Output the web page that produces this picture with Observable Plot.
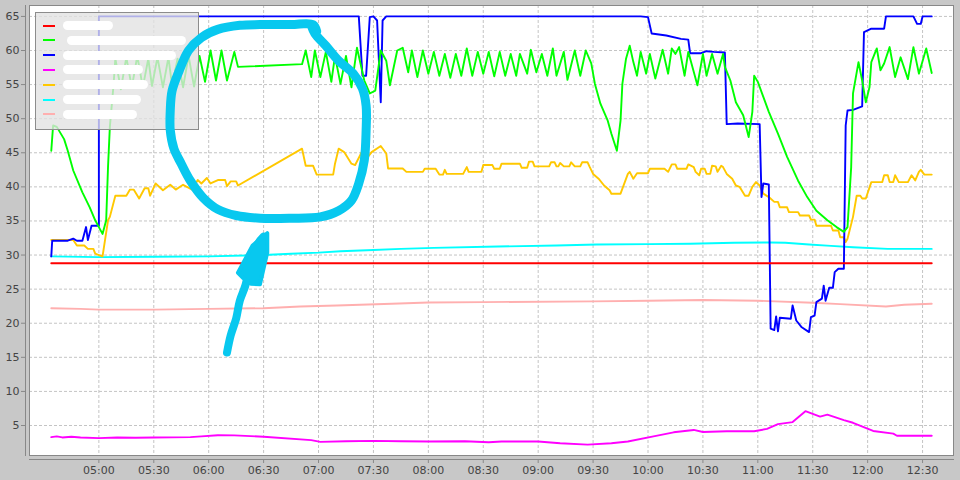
<!DOCTYPE html>
<html><head><meta charset="utf-8">
<script src="https://cdn.jsdelivr.net/npm/d3@7"></script>
<script src="https://cdn.jsdelivr.net/npm/@observablehq/plot@0.6"></script>
<style>
html,body{margin:0;padding:0;background:#c8c8c8;}
#wrap{position:relative;width:960px;height:480px;overflow:hidden;}
#wrap svg{position:absolute;left:0;top:0;}
#legend{position:absolute;left:35px;top:12px;width:164px;height:118px;background:rgba(226,226,226,0.78);border:1px solid #8c8c8c;box-sizing:border-box;}
.sw{position:absolute;left:7px;width:12px;height:2px;}
.blob{position:absolute;background:#fff;border-radius:5px;filter:blur(0.5px);}
#annot{pointer-events:none;}
</style></head><body><div id="wrap"></div>
<script>
// ---- data (time "HH:MM", value) ----
const redSeries = [["04:34",28.8],["08:00",28.8],["12:35",28.8]];
const greenSeries = [["04:34",45.3],["04:35",49.0],["04:37",48.8],["04:41",47.0],["04:43",45.3],["04:46",42.4],["04:51",39.2],["04:55",37.0],["04:58",35.1],["05:00",34.1],["05:02",33.1],["05:04",35.1],["05:05",42.9],["05:06",48.8],["05:08",54.9],["05:09",58.8],["05:12",54.3],["05:15",59.0],["05:18",54.6],["05:21",59.2],["05:24",54.6],["05:27",58.8],["05:29",54.8],["05:32",59.0],["05:35",54.6],["05:38",59.0],["05:40",54.8],["05:43",58.8],["05:46",54.6],["05:49",59.2],["05:52",54.7],["05:55",59.2],["05:58",55.4],["06:01",60.0],["06:04",55.6],["06:07",60.0],["06:10",55.6],["06:14",59.8],["06:16",57.6],["06:51",58.0],["06:53",60.0],["06:56",56.1],["06:58",60.0],["07:01",56.1],["07:04",59.8],["07:07",55.4],["07:09",59.2],["07:12",55.1],["07:15",59.2],["07:18",54.6],["07:21",60.4],["07:25",55.6],["07:28",53.7],["07:31",54.1],["07:34",60.0],["07:37",58.5],["07:39",54.9],["07:43",60.0],["07:46",60.4],["07:49",56.8],["07:51",60.0],["07:54",56.1],["07:57",60.0],["08:00",56.6],["08:03",59.8],["08:06",56.3],["08:09",59.5],["08:12",56.0],["08:15",59.5],["08:18",56.3],["08:21",60.3],["08:24",56.3],["08:27",59.8],["08:30",56.6],["08:33",59.8],["08:36",56.2],["08:39",59.8],["08:42",56.3],["08:45",59.5],["08:48",56.3],["08:50",59.5],["08:54",56.6],["08:56",60.1],["08:59",56.8],["09:02",59.5],["09:05",56.3],["09:08",60.3],["09:10",56.3],["09:14",59.8],["09:16",55.7],["09:20",60.0],["09:23",56.3],["09:26",60.0],["09:29",58.1],["09:31",55.1],["09:34",52.2],["09:38",49.7],["09:40",47.8],["09:43",45.3],["09:45",49.7],["09:46",55.1],["09:48",58.8],["09:50",60.7],["09:52",58.3],["09:54",56.3],["09:56",59.8],["09:59",56.6],["10:01",59.5],["10:04",55.9],["10:08",60.1],["10:11",56.6],["10:13",60.3],["10:15",59.5],["10:17",60.5],["10:20",56.3],["10:22",59.8],["10:27",54.9],["10:30",59.5],["10:32",56.3],["10:35",59.5],["10:38",56.6],["10:41",59.5],["10:42",57.6],["10:45",55.6],["10:48",52.4],["10:52",50.5],["10:55",47.3],["10:57",51.0],["10:58",56.3],["11:00",55.4],["11:03",53.2],["11:06",51.0],["11:11",47.8],["11:16",44.4],["11:22",40.9],["11:27",38.5],["11:32",36.5],["11:38",35.1],["11:43",34.1],["11:47",33.4],["11:49",34.1],["11:51",42.9],["11:52",53.7],["11:55",58.3],["11:57",55.6],["11:59",52.4],["12:01",54.6],["12:02",58.3],["12:05",60.3],["12:07",57.1],["12:09",58.1],["12:12",60.5],["12:15",56.1],["12:18",59.0],["12:22",55.8],["12:25",60.5],["12:28",56.6],["12:32",60.3],["12:35",56.7]];
const blueSeries = [["04:34",29.8],["04:34:30",32.1],["04:43",32.1],["04:46",32.4],["04:48",32.1],["04:51",32.1],["04:53",34.1],["04:54",32.2],["04:56",34.3],["05:00",34.3],["05:00",65.0],["07:22",65.0],["07:24",56.3],["07:26",56.3],["07:28",64.9],["07:30",65.0],["07:32",64.4],["07:34",52.4],["07:35",64.4],["07:37",65.0],["09:56",65.0],["10:00",64.9],["10:02",62.5],["10:10",62.2],["10:18",61.7],["10:22",61.6],["10:23",59.6],["10:29",59.6],["10:32",59.9],["10:36",59.8],["10:42",59.7],["10:43",49.2],["10:49",49.3],["11:01",49.2],["11:02",38.5],["11:03",40.5],["11:06",40.35],["11:07",19.2],["11:09",19.0],["11:10",21.0],["11:11",18.8],["11:12",20.8],["11:18",20.65],["11:19",22.6],["11:21",20.4],["11:24",19.4],["11:28",18.7],["11:29",20.9],["11:31",21.1],["11:32",23.1],["11:35",23.6],["11:36",25.5],["11:37",23.3],["11:39",25.2],["11:41",25.2],["11:42",27.5],["11:44",28.0],["11:47",28.0],["11:48",49.0],["11:49",51.2],["11:52",51.3],["11:57",51.8],["11:58",62.7],["12:02",63.2],["12:09",63.2],["12:10",65.0],["12:25",65.0],["12:27",63.9],["12:29",63.9],["12:30",65.0],["12:35",65.0]];
const magentaSeries = [["04:34",3.3],["04:37",3.4],["04:40",3.25],["04:45",3.35],["04:50",3.25],["05:00",3.15],["05:10",3.25],["05:20",3.2],["05:30",3.25],["05:50",3.3],["05:56",3.4],["06:05",3.58],["06:14",3.55],["06:30",3.35],["06:56",2.85],["07:01",2.6],["07:15",2.7],["07:30",2.75],["07:45",2.7],["08:00",2.65],["08:20",2.7],["08:33",2.55],["08:40",2.65],["09:00",2.65],["09:12",2.4],["09:27",2.2],["09:40",2.4],["09:49",2.65],["10:03",3.4],["10:14",4.0],["10:25",4.35],["10:30",4.05],["10:43",4.15],["10:58",4.15],["11:05",4.5],["11:11",5.2],["11:19",5.5],["11:26",7.1],["11:34",6.3],["11:38",6.6],["11:47",5.8],["11:52",5.4],["12:03",4.2],["12:14",3.8],["12:16",3.5],["12:35",3.5]];
const orangeSeries = [["04:34",32.2],["04:46",32.2],["04:48",31.4],["04:52",31.4],["04:54",30.9],["04:57",30.9],["04:58",30.2],["05:00",30.0],["05:02",29.8],["05:05",35.1],["05:06",35.6],["05:09",38.7],["05:15",38.7],["05:17",39.6],["05:19",39.6],["05:22",38.3],["05:25",39.8],["05:27",39.8],["05:28",38.7],["05:31",40.5],["05:35",39.5],["05:39",40.3],["05:42",39.6],["05:46",40.3],["05:51",39.6],["05:54",41.0],["05:56",40.5],["05:59",41.3],["06:01",40.5],["06:05",41.0],["06:09",41.0],["06:10",40.1],["06:12",40.8],["06:15",40.8],["06:16",40.2],["06:51",45.6],["06:53",43.1],["06:57",43.1],["06:59",41.8],["07:08",41.8],["07:09",43.4],["07:11",45.6],["07:14",45.1],["07:18",43.4],["07:20",43.2],["07:24",45.3],["07:27",44.4],["07:29",45.1],["07:34",46.0],["07:37",44.9],["07:38",42.7],["07:46",42.7],["07:48",42.2],["07:57",42.2],["07:58",42.65],["08:04",42.65],["08:06",41.8],["08:08",41.8],["08:09",42.5],["08:10",41.9],["08:19",41.9],["08:21",42.9],["08:22",42.2],["08:29",42.2],["08:30",43.2],["08:35",43.2],["08:36",42.65],["08:39",42.65],["08:40",43.4],["08:50",43.4],["08:51",42.8],["08:54",42.8],["08:55",43.7],["08:57",43.7],["08:58",43.0],["09:06",43.0],["09:07",43.6],["09:09",43.6],["09:10",43.0],["09:11",43.0],["09:12",43.5],["09:14",43.0],["09:17",43.0],["09:18",43.6],["09:20",43.0],["09:23",43.0],["09:24",43.6],["09:27",43.6],["09:28",43.0],["09:30",41.9],["09:33",41.2],["09:36",40.2],["09:39",39.5],["09:40",39.0],["09:45",39.0],["09:49",41.9],["09:50",42.2],["09:52",41.2],["09:54",42.0],["10:00",42.0],["10:01",42.65],["10:09",42.65],["10:11",42.2],["10:13",43.3],["10:15",43.3],["10:16",42.65],["10:21",42.65],["10:22",43.3],["10:25",42.9],["10:26",42.2],["10:28",41.7],["10:29",42.65],["10:31",42.65],["10:32",41.9],["10:34",41.9],["10:35",43.1],["10:37",43.0],["10:38",42.2],["10:40",43.1],["10:41",42.9],["10:43",41.9],["10:46",41.2],["10:48",40.2],["10:50",40.0],["10:53",38.7],["10:55",38.7],["10:57",40.0],["10:59",40.7],["11:01",40.2],["11:03",39.0],["11:06",38.5],["11:09",37.8],["11:11",37.8],["11:12",37.0],["11:16",37.0],["11:17",36.3],["11:22",36.3],["11:23",35.8],["11:28",35.8],["11:29",35.2],["11:31",35.2],["11:32",34.3],["11:40",34.3],["11:41",33.6],["11:44",33.6],["11:45",32.6],["11:47",32.6],["11:48",31.9],["11:49",32.4],["11:52",35.6],["11:54",38.7],["11:56",38.7],["11:57",38.3],["11:59",38.3],["12:02",40.7],["12:08",40.7],["12:09",41.7],["12:11",41.7],["12:12",40.7],["12:14",40.7],["12:15",41.7],["12:17",40.7],["12:22",40.7],["12:24",41.7],["12:26",40.95],["12:28",42.2],["12:29",42.5],["12:31",41.8],["12:35",41.8]];
const cyanSeries = [["04:34",29.8],["05:00",29.7],["05:30",29.75],["06:00",29.8],["06:30",30.0],["06:45",30.2],["07:00",30.35],["07:12",30.55],["07:30",30.75],["07:45",30.9],["08:03",31.05],["08:38",31.25],["09:10",31.4],["09:32",31.55],["10:00",31.6],["10:23",31.65],["10:47",31.8],["11:07",31.85],["11:15",31.8],["11:28",31.55],["11:40",31.35],["11:52",31.15],["12:11",30.9],["12:35",30.9]];
const pinkSeries = [["04:34",22.2],["04:50",22.1],["05:00",22.0],["05:30",22.0],["06:00",22.1],["06:30",22.2],["06:50",22.45],["07:10",22.6],["07:40",22.85],["08:00",23.05],["08:30",23.1],["09:30",23.2],["10:00",23.3],["10:30",23.4],["11:00",23.3],["11:30",23.0],["11:45",22.8],["12:10",22.45],["12:20",22.7],["12:35",22.85]];

// hand-drawn annotation strokes (in chart coordinates)
const annotationLoop = [["06:59",62.8],["06:57",63.8],["06:45",63.8],["06:28",63.8],["06:17",63.7],["06:05",63.1],["05:56",61.9],["05:49",60.0],["05:44",57.1],["05:40",54.1],["05:39",51.2],["05:39",48.3],["05:41",45.6],["05:45",43.4],["05:50",40.9],["05:57",38.4],["06:05",36.7],["06:15",35.8],["06:28",35.4],["06:45",35.4],["07:01",35.6],["07:11",36.5],["07:18",38.0],["07:22",40.5],["07:25",43.9],["07:26",48.3],["07:26",51.9],["07:24",54.4],["07:19",56.6],["07:11",58.5],["07:04",60.7],["06:58",62.5],["06:56",63.7]];
const annotationShaft = [["06:10",15.7],["06:12",18.2],["06:15",20.7],["06:17",23.3],["06:20",25.5],["06:23",28.9],["06:27",31.7],["06:30",32.7]];
const annotationHead = [["06:16",27.4],["06:24",31.4],["06:32",33.2],["06:32",30.4],["06:28",25.7],["06:23",25.8],["06:19",26.6],["06:16",27.4]];

const seriesColors = ["#ff0000","#00ff00","#0000ff","#ff00ff","#ffc800","#00ffff","#ffafaf"];
const yTicks = [5,10,15,20,25,30,35,40,45,50,55,60,65];
const xTickLabels = ["05:00","05:30","06:00","06:30","07:00","07:30","08:00","08:30","09:00","09:30","10:00","10:30","11:00","11:30","12:00","12:30"];
const xDomain = ["04:22:06","12:46:54"];
const yDomain = [0.6, 66.6];
const legendBlobWidths = [50,119,113,80,85,78,74];

// ---- helpers ----
const parse = s => { const [h,m,sec=0] = s.split(":").map(Number); return new Date(Date.UTC(2020,0,1,h,m,sec)); };
const rows = arr => arr.map(([t,v]) => ({t: parse(t), v}));
const allSeries = [redSeries, greenSeries, blueSeries, magentaSeries, orangeSeries, cyanSeries, pinkSeries];
const xTicks = xTickLabels.map(parse);
const common = {
  width:960, height:480,
  marginLeft:29, marginRight:7, marginTop:5, marginBottom:25,
  x:{type:"utc", domain: xDomain.map(parse)},
  y:{domain: yDomain}
};
const gridStyle = {stroke:"#c4c4c4", strokeOpacity:1, strokeWidth:1, strokeDasharray:"3,2"};

const lineMarks = allSeries.map((s,i) => ({s,i})).reverse().map(({s,i}) =>
  Plot.line(rows(s), {x:"t", y:"v", stroke: seriesColors[i], strokeWidth:1.9}));

const chart = Plot.plot({
  ...common,
  style:{background:"#c8c8c8", fontFamily:"'DejaVu Sans', sans-serif", fontSize:"11px", color:"#444"},
  marks:[
    Plot.frame({fill:"#ffffff", stroke:"none"}),
    Plot.gridX({ticks: xTicks, ...gridStyle}),
    Plot.gridY({ticks: yTicks, ...gridStyle}),
    Plot.axisX({ticks: xTicks, tickFormat: d3.utcFormat("%H:%M"), tickSize:4, tickPadding:3, dy:4, stroke:"#888", fill:"#444", label:null}),
    Plot.axisY({ticks: yTicks, tickSize:4, tickPadding:2, dx:-4, stroke:"#888", fill:"#444", label:null}),
    Plot.frame({anchor:"left", dx:-4, stroke:"#888"}),
    Plot.frame({anchor:"bottom", dy:4, stroke:"#888"}),
    ...lineMarks,
    Plot.frame({stroke:"#888"})
  ]
});
const wrap = document.getElementById("wrap");
wrap.appendChild(chart);

// legend (labels are blanked out in the reference)
const legend = document.createElement("div");
legend.id = "legend";
seriesColors.forEach((c,i) => {
  const y = 12.5 + i*14.8;
  const sw = document.createElement("div");
  sw.className = "sw"; sw.style.background = c; sw.style.top = (y-1)+"px";
  legend.appendChild(sw);
  const b = document.createElement("div");
  b.className = "blob"; b.style.left = (i===1?31:27)+"px"; b.style.top = (y-4.5)+"px";
  b.style.width = legendBlobWidths[i]+"px"; b.style.height = "9px";
  legend.appendChild(b);
});
wrap.appendChild(legend);

// annotation overlay
const annColor = "#08c8ef";
const annot = Plot.plot({
  ...common,
  x:{...common.x, axis:null}, y:{...common.y, axis:null},
  style:{background:"transparent"},
  marks:[
    Plot.line(rows(annotationLoop), {x:"t", y:"v", stroke:annColor, strokeWidth:9, strokeLinecap:"round", strokeLinejoin:"round", curve:"catmull-rom"}),
    Plot.line(rows(annotationShaft), {x:"t", y:"v", stroke:annColor, strokeWidth:8, strokeLinecap:"round", strokeLinejoin:"round", curve:"catmull-rom"}),
    Plot.line(rows(annotationHead), {x:"t", y:"v", stroke:annColor, fill:annColor, strokeWidth:4, strokeLinejoin:"round"})
  ]
});
annot.id = "annot";
wrap.appendChild(annot);
</script></body></html>
